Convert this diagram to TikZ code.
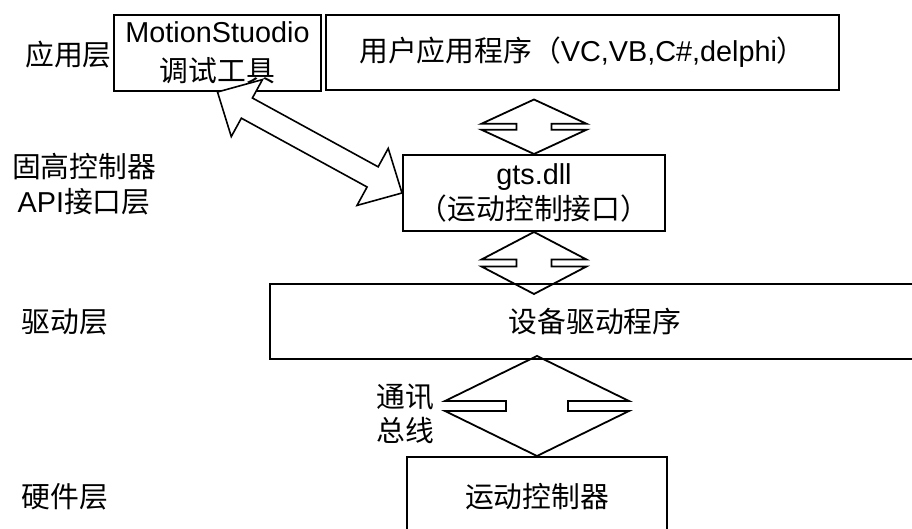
\documentclass[tikz,border=0pt]{standalone}
\usepackage{fontspec}
\setmainfont{Liberation Sans}
\newfontfamily\cjk{Noto Sans CJK SC}
\usetikzlibrary{calc}

% two-way bus arrow: top, bottom, half width, stub length, half gap
\newcommand{\busarrow}[5]{%
  \draw[busline] (#1) -- ($(#1)!.5!(#2)+(-#3,-#5)$) -- ++(#4,0) -- ++(0,2*#5)
    -- ++(-#4,0) -- (#2) -- ($(#1)!.5!(#2)+(#3,#5)$) -- ++(-#4,0)
    -- ++(0,-2*#5) -- ++(#4,0) -- cycle;}

\begin{document}
\begin{tikzpicture}[
      x=0.5pt, y=-0.5pt,
      every node/.style={font=\fontsize{14.4}{17}\selectfont, inner sep=0pt},
      box/.style={draw, line width=1pt, align=center},
      layer/.style={align=center},
      busline/.style={line width=0.9pt},
      fatarrow/.style={draw, fill=white, line width=0.8pt}
      ]
      \useasboundingbox (0,0) rectangle (912,529);
      \clip (0,0) rectangle (912,529);

      % layer names
      \node[layer] (lapp) at (68.5,55) {\cjk 应用层};
      \node[layer] (lapi) at (84,184.5) {{\cjk 固高控制器}\\[0.5pt]API{\cjk 接口层}};
      \node[layer] (ldrv) at (65,322) {\cjk 驱动层};
      \node[layer] (lhw) at (65,497) {\cjk 硬件层};

      % boxes
      \node[box, minimum width=103.5pt, minimum height=38pt] (ms) at (217.5,53)
        {MotionStuodio\\[2.5pt]{\cjk 调试工具}};
      \node[box, minimum width=256.5pt, minimum height=37.5pt] (app) at (582.5,52.5)
        {{\cjk 用户应用程序（}VC,VB,C\#,delphi{\cjk ）}};
      \node[box, minimum width=131pt, minimum height=38pt] (gts) at (534,193)
        {gts.dll\\[0.5pt]{\cjk （运动控制接口）}};
      \node[box, minimum width=325pt, minimum height=37.5pt] (drv) at (595,321.5)
        {\cjk 设备驱动程序};
      \node[box, minimum width=130pt, minimum height=40pt, anchor=north] (mc) at (537,456)
        {\cjk 运动控制器};

      % bus arrows
      \coordinate (d1t) at (534,99.5);
      \coordinate (d2b) at (534,294);
      \coordinate (d3t) at (537,356);
      \busarrow{d1t}{gts.north}{52.5}{35}{3}
      \busarrow{gts.south}{d2b}{52.5}{35}{3.5}
      \busarrow{d3t}{mc.north}{92}{61}{5}
      \node[layer] (lbus) at (405,413.5) {{\cjk 通讯}\\{\cjk 总线}};

      % fat arrow between MotionStuodio and gts.dll
      \coordinate (fa1) at ($(ms.south)!16.75pt!(gts.west)$);
      \coordinate (fa2) at ($(gts.west)!16.75pt!(ms.south)$);
      \path[fatarrow] (ms.south) -- ($(fa1)!16.25pt!90:(gts.west)$)
        -- ($(fa1)!5.75pt!90:(gts.west)$) -- ($(fa2)!5.75pt!90:(gts.west)$)
        -- ($(fa2)!16.25pt!90:(gts.west)$) -- (gts.west)
        -- ($(fa2)!16.25pt!-90:(gts.west)$) -- ($(fa2)!5.75pt!-90:(gts.west)$)
        -- ($(fa1)!5.75pt!-90:(gts.west)$) -- ($(fa1)!16.25pt!-90:(gts.west)$) -- cycle;
    \end{tikzpicture}
\end{document}
